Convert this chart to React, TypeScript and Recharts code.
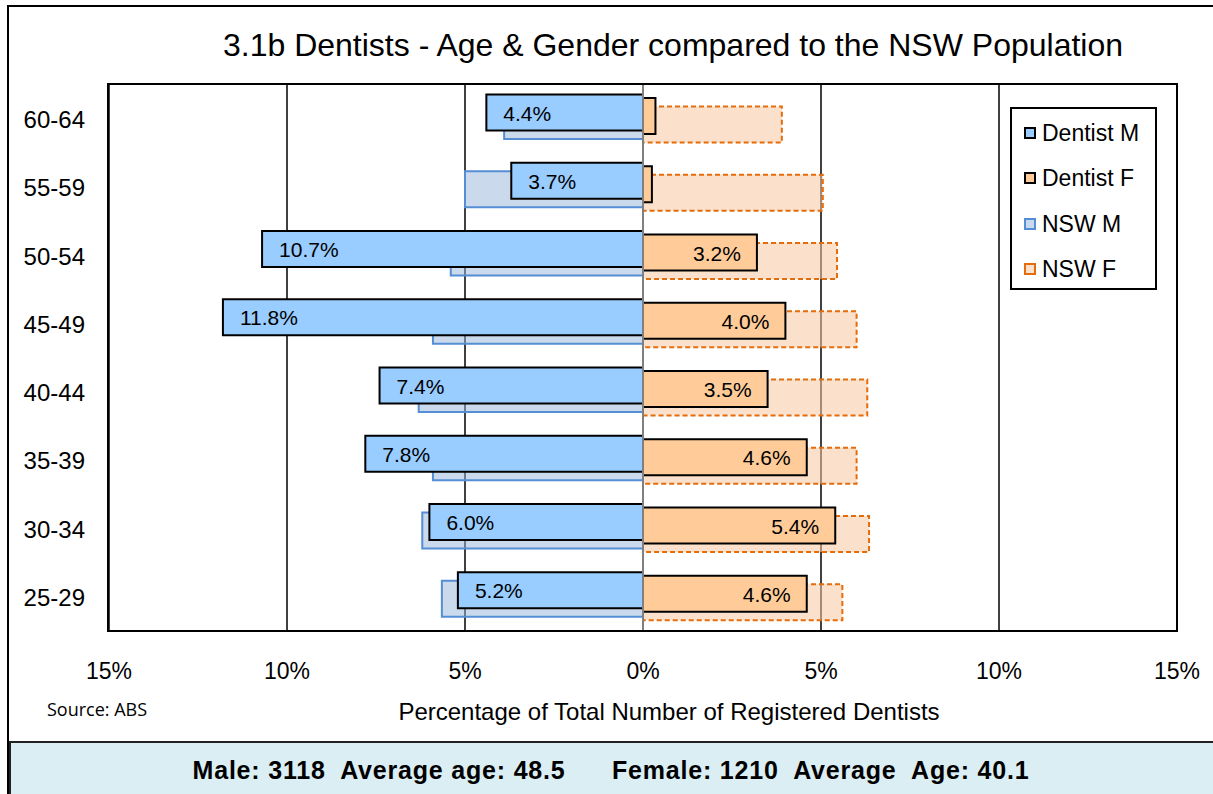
import React from 'react';
import {
  BarChart,
  Bar,
  XAxis,
  YAxis,
  CartesianGrid,
  ReferenceLine,
  LabelList,
} from 'recharts';

const FONT = '"Liberation Sans", Arial, sans-serif';

// age bands, top to bottom as drawn
const ageGroups = ['60-64', '55-59', '50-54', '45-49', '40-44', '35-39', '30-34', '25-29'];
// percentages
const dentistMale = [4.4, 3.7, 10.7, 11.8, 7.4, 7.8, 6.0, 5.2];
const dentistFemale = [0.35, 0.25, 3.2, 4.0, 3.5, 4.6, 5.4, 4.6];
const nswMale = [3.9, 5.0, 5.4, 5.9, 6.3, 5.9, 6.2, 5.65];
const nswFemale = [3.9, 5.05, 5.45, 6.0, 6.3, 6.0, 6.35, 5.6];
const xTicks = [-15, -10, -5, 0, 5, 10, 15];

const chartData = ageGroups.map((age, i) => ({
  age,
  dm: -dentistMale[i],
  df: dentistFemale[i],
  nm: -nswMale[i],
  nf: nswFemale[i],
}));

const legendItems = [
  { label: 'Dentist M', fill: '#99CCFF', border: '2px solid #000' },
  { label: 'Dentist F', fill: '#FFCC99', border: '2px solid #000' },
  { label: 'NSW M', fill: '#CAD9EB', border: '2px solid #558ED5' },
  { label: 'NSW F', fill: '#FBE1CB', border: '2px dashed #E46C0A' },
];

// label near the outer (left) end of the male bars
const maleLabel = (props: any) => {
  const { x, y, width, height, value } = props;
  const left = Math.min(x, x + width);
  return (
    <text x={left + 17} y={y + height / 2 + 8} fontSize={21} fill="#000" fontFamily={FONT}>
      {Math.abs(value).toFixed(1)}%
    </text>
  );
};

// label near the outer (right) end of the female bars
const femaleLabel = (props: any) => {
  const { x, y, width, height, value } = props;
  if (Math.abs(value) < 1) return null;
  const right = Math.max(x, x + width);
  return (
    <text
      x={right - 16}
      y={y + height / 2 + 8}
      fontSize={21}
      fill="#000"
      textAnchor="end"
      fontFamily={FONT}
    >
      {Math.abs(value).toFixed(1)}%
    </text>
  );
};

export default function App() {
  return (
    <div
      style={{
        position: 'relative',
        width: 1213,
        height: 794,
        overflow: 'hidden',
        background: '#fff',
        fontFamily: FONT,
        color: '#000',
      }}
    >
      <style>{'body{margin:0}'}</style>

      {/* outer frame */}
      <div
        style={{
          position: 'absolute',
          left: 7,
          top: 5,
          width: 1230,
          height: 820,
          border: '2px solid #000',
        }}
      />

      {/* title */}
      <div
        style={{
          position: 'absolute',
          left: 0,
          width: 1346,
          top: 29,
          fontSize: 32,
          lineHeight: '32px',
          textAlign: 'center',
        }}
      >
        3.1b Dentists - Age &amp; Gender compared to the NSW Population
      </div>

      <div style={{ position: 'absolute', left: 0, top: 0 }}>
        <BarChart
          width={1213}
          height={740}
          data={chartData}
          layout="vertical"
          margin={{ top: 85, right: 36, bottom: 49, left: 0 }}
          barSize={36}
          barGap={-32.5}
          barCategoryGap={0}
        >
          <CartesianGrid horizontal={false} yAxisId="d" stroke="#000" strokeWidth={1.5} />
          <XAxis
            type="number"
            domain={[-15, 15]}
            ticks={xTicks}
            allowDataOverflow
            tickFormatter={(v) => `${Math.abs(v)}%`}
            axisLine={{ stroke: '#000', strokeWidth: 2 }}
            tickLine={false}
            tickSize={0}
            tickMargin={32}
            height={60}
            tick={{ fontSize: 23, fill: '#000', fontFamily: FONT }}
          />
          <YAxis
            yAxisId="n"
            type="category"
            dataKey="age"
            hide
            padding={{ top: 4, bottom: -4 }}
          />
          <YAxis
            yAxisId="d"
            type="category"
            dataKey="age"
            width={109}
            padding={{ top: -4.5, bottom: 4.5 }}
            axisLine={false}
            tickLine={false}
            tickSize={0}
            tickMargin={24}
            tick={{ fontSize: 24, fill: '#000', fontFamily: FONT, dy: 5 }}
          />
          <Bar
            yAxisId="n"
            dataKey="nm"
            fill="#95B3D7"
            fillOpacity={0.5}
            stroke="#558ED5"
            strokeWidth={2}
            isAnimationActive={false}
          />
          <Bar
            yAxisId="n"
            dataKey="nf"
            fill="#F8C9A0"
            fillOpacity={0.55}
            stroke="#E46C0A"
            strokeWidth={2}
            strokeDasharray="5 3"
            isAnimationActive={false}
          />
          <Bar
            yAxisId="d"
            dataKey="dm"
            fill="#99CCFF"
            stroke="#000"
            strokeWidth={2}
            isAnimationActive={false}
          >
            <LabelList dataKey="dm" content={maleLabel} />
          </Bar>
          <Bar
            yAxisId="d"
            dataKey="df"
            fill="#FFCC99"
            stroke="#000"
            strokeWidth={2}
            isAnimationActive={false}
          >
            <LabelList dataKey="df" content={femaleLabel} />
          </Bar>
          <ReferenceLine yAxisId="d" x={0} stroke="#808080" strokeWidth={2} />
        </BarChart>
      </div>

      {/* plot border */}
      <div
        style={{
          position: 'absolute',
          left: 107,
          top: 83,
          width: 1071,
          height: 549,
          boxSizing: 'border-box',
          border: '2px solid #000',
          pointerEvents: 'none',
        }}
      />

      {/* legend */}
      <div
        style={{
          position: 'absolute',
          left: 1010,
          top: 107,
          width: 147,
          height: 183,
          boxSizing: 'border-box',
          border: '2px solid #000',
          background: '#fff',
        }}
      >
        {legendItems.map((item, i) => (
          <div
            key={item.label}
            style={{
              position: 'absolute',
              left: 12,
              top: 13 + i * 45.3,
              height: 22,
              display: 'flex',
              alignItems: 'center',
              fontSize: 23,
              lineHeight: '22px',
              whiteSpace: 'nowrap',
            }}
          >
            <span
              style={{
                display: 'inline-block',
                width: 12,
                height: 12,
                boxSizing: 'border-box',
                background: item.fill,
                border: item.border,
                marginRight: 6,
              }}
            />
            {item.label}
          </div>
        ))}
      </div>

      {/* source */}
      <div
        style={{
          position: 'absolute',
          left: 47,
          top: 700,
          fontSize: 18,
          lineHeight: '18px',
          fontFamily: '"Open Sans", sans-serif',
        }}
      >
        Source: ABS
      </div>

      {/* axis title */}
      <div
        style={{
          position: 'absolute',
          left: 0,
          width: 1338,
          top: 700,
          fontSize: 24,
          lineHeight: '24px',
          textAlign: 'center',
        }}
      >
        Percentage of Total Number of Registered Dentists
      </div>

      {/* summary box */}
      <div
        style={{
          position: 'absolute',
          left: 9,
          top: 741,
          width: 1220,
          height: 70,
          background: '#DAEEF3',
          borderTop: '2px solid #222',
          borderLeft: '2px solid #222',
        }}
      />
      <div
        style={{
          position: 'absolute',
          left: 0,
          width: 1222,
          top: 758,
          fontSize: 25,
          lineHeight: '25px',
          fontWeight: 'bold',
          textAlign: 'center',
          whiteSpace: 'pre',
          letterSpacing: 0.8,
        }}
      >
        {'Male: 3118  Average age: 48.5      Female: 1210  Average  Age: 40.1'}
      </div>
    </div>
  );
}
